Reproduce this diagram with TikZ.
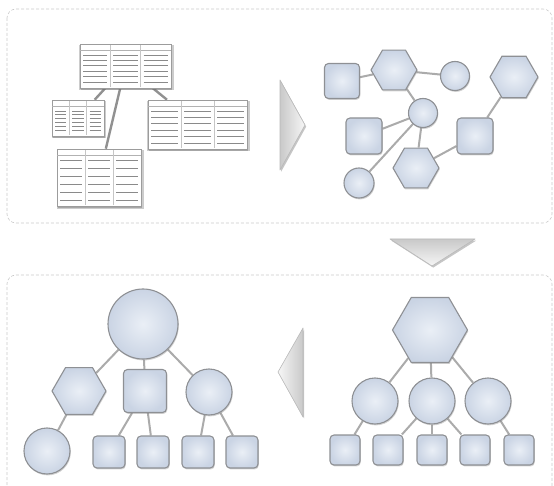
\documentclass[tikz,border=0pt]{standalone}
\usepackage{tikz}
\usetikzlibrary{shapes.geometric,shadows,backgrounds,calc}

\definecolor{panelgray}{HTML}{C8C8C8}
\definecolor{linkgray}{HTML}{ABABAB}
\definecolor{shapeedge}{HTML}{8E9094}
\definecolor{shapelight}{HTML}{EAEFF6}
\definecolor{shapedark}{HTML}{CAD4E4}
\definecolor{tableedge}{HTML}{9C9C9C}
\definecolor{rowgray}{HTML}{8A8A8A}
\definecolor{arrowdark}{HTML}{C9C9C9}
\definecolor{arrowlight}{HTML}{F6F6F6}

\tikzset{
	panel/.style={draw=panelgray,dash pattern=on 3pt off 2pt,line width=0.6pt,rounded corners=9pt},
	link/.style={draw=linkgray,line width=2pt},
	tablelink/.style={draw=linkgray!85!black,line width=2.4pt},
	blob/.style={draw=shapeedge,line width=1.1pt,inner sep=0pt,inner color=shapelight,outer color=shapedark,
		drop shadow={shadow xshift=0.8pt,shadow yshift=-1.4pt,opacity=0.35}},
	hexnode/.style={blob,regular polygon,regular polygon sides=6,minimum size=#1pt},
	roundnode/.style={blob,circle,minimum size=#1pt},
	boxnode/.style={blob,rectangle,rounded corners=4pt,minimum size=#1pt},
	dbtable/.style={draw=tableedge,fill=white,line width=0.6pt,inner sep=0pt,
		general shadow={shadow scale=1.035,shadow xshift=1pt,shadow yshift=-1.5pt,fill=black,opacity=0.2},
		drop shadow={shadow xshift=1.2pt,shadow yshift=-1.6pt,opacity=0.5}},
	colline/.style={draw=gray!45,line width=0.5pt},
	headline/.style={draw=gray!60,line width=0.4pt},
	rowline/.style={draw=rowgray,line width=0.8pt},
	bigarrow/.style={draw=gray!55,line width=0.6pt,line join=round,
		drop shadow={shadow xshift=1.2pt,shadow yshift=-1.6pt,opacity=0.45}}
}

\begin{document}
\begin{tikzpicture}[x=1pt,y=-1pt]
	\useasboundingbox (0,0) rectangle (554,486);

	%panels
	\draw[panel] (7,9) rectangle (552,223);
	\draw[panel] (7,495) -- (7,275) -- (552,275) -- (552,495);

	%tables
	\foreach \n/\xa/\ya/\xb/\yb/\rows in {tabA/80/44/171/88/6, tabB/52/100/104/136/6, tabC/148/100/247/149/6, tabD/57/149/141/206/6}{
		\node[dbtable,minimum width={(\xb-\xa)*1pt},minimum height={(\yb-\ya)*1pt}] (\n) at ({(\xa+\xb)/2},{(\ya+\yb)/2}) {};
		\pgfmathsetmacro{\cw}{(\xb-\xa)/3}
		\pgfmathsetmacro{\rs}{(\yb-\ya-17)/(\rows-1)}
		\draw[headline] (\xa,\ya+6) -- (\xb,\ya+6);
		\draw[colline] (\xa+\cw,\ya+1) -- (\xa+\cw,\yb-1);
		\draw[colline] (\xa+2*\cw,\ya+1) -- (\xa+2*\cw,\yb-1);
		\foreach \c in {0,1,2}
			\foreach \r in {1,...,\rows}
				\draw[rowline] ({\xa+\c*\cw+3},{\ya+11+(\r-1)*\rs}) -- ({\xa+(\c+1)*\cw-3},{\ya+11+(\r-1)*\rs});
	}

	%network
	\node[boxnode=35]   (s1) at (342,81)  {};
	\node[hexnode=46]   (h1) at (394,70)  {};
	\node[roundnode=29] (c1) at (455,76)  {};
	\node[hexnode=48]   (h2) at (514,77)  {};
	\node[roundnode=29] (c2) at (423,113) {};
	\node[boxnode=36]   (s2) at (364,136) {};
	\node[boxnode=36]   (s3) at (475,136) {};
	\node[hexnode=46]   (h3) at (416,168) {};
	\node[roundnode=30] (c3) at (359,183) {};

	%tree, right
	\node[hexnode=75]   (rtop) at (430,330) {};
	\node[roundnode=46] (rc1)  at (375,401) {};
	\node[roundnode=46] (rc2)  at (432,401) {};
	\node[roundnode=46] (rc3)  at (488,401) {};
	\node[boxnode=30]   (rs1)  at (345,450) {};
	\node[boxnode=30]   (rs2)  at (388,450) {};
	\node[boxnode=30]   (rs3)  at (432,450) {};
	\node[boxnode=30]   (rs4)  at (475,450) {};
	\node[boxnode=30]   (rs5)  at (519,450) {};

	%tree, left
	\node[roundnode=70] (ltop) at (143,324) {};
	\node[hexnode=54]   (lh)   at (79,391)  {};
	\node[boxnode=43]   (ls)   at (145,391) {};
	\node[roundnode=46] (lc)   at (209,392) {};
	\node[roundnode=46] (lb)   at (47,451)  {};
	\node[boxnode=32]   (lq1)  at (109,452) {};
	\node[boxnode=32]   (lq2)  at (153,452) {};
	\node[boxnode=32]   (lq3)  at (198,452) {};
	\node[boxnode=32]   (lq4)  at (242,452) {};

	%links
	\begin{scope}[on background layer]
		\draw[tablelink] (tabA) -- (tabB);
		\draw[tablelink] (tabA) -- (tabD);
		\draw[tablelink] (tabA) -- (tabC);
		%
		\draw[link] (s1) -- (h1);
		\draw[link] (h1) -- (c1);
		\draw[link] (h1) -- (c2);
		\draw[link] (c2) -- (s2);
		\draw[link] (c2) -- (c3);
		\draw[link] (c2) -- (h3);
		\draw[link] (h3) -- (s3);
		\draw[link] (s3) -- (h2);
		%
		\foreach \t in {rc1,rc2,rc3} \draw[link] (rtop) -- (\t);
		\draw[link] (rc1) -- (rs1);
		\draw[link] (rc2) -- (rs2);
		\draw[link] (rc2) -- (rs3);
		\draw[link] (rc2) -- (rs4);
		\draw[link] (rc3) -- (rs5);
		%
		\foreach \t in {lh,ls,lc} \draw[link] (ltop) -- (\t);
		\draw[link] (lh) -- (lb);
		\draw[link] (ls) -- (lq1);
		\draw[link] (ls) -- (lq2);
		\draw[link] (lc) -- (lq3);
		\draw[link] (lc) -- (lq4);
	\end{scope}

	%arrows between panels
	\draw[bigarrow,left color=arrowdark,right color=arrowlight] (280,80) -- (305,125) -- (280,170) -- cycle;
	\draw[bigarrow,top color=arrowdark,bottom color=arrowlight] (390,239) -- (475,239) -- (432,266) -- cycle;
	\draw[bigarrow,left color=arrowlight,right color=arrowdark] (303,328) -- (303,417) -- (278,372) -- cycle;
\end{tikzpicture}
\end{document}
